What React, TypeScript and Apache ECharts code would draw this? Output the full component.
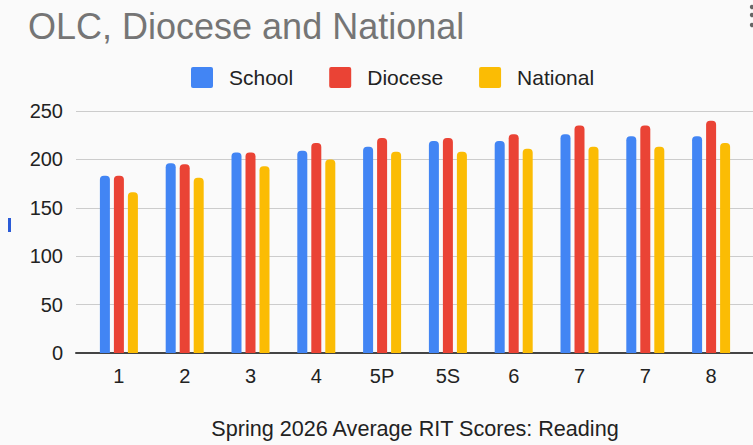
import React, { useEffect, useRef } from "react";
import * as echarts from "echarts";

const categories = ["1", "2", "3", "4", "5P", "5S", "6", "7", "7", "8"];
const school = [183, 196, 207, 209, 213, 219, 219, 226, 224, 224];
const diocese = [183, 195, 207, 217, 222, 222, 226, 235, 235, 240];
const national = [166, 181, 193, 200, 208, 208, 211, 213, 213, 217];
const seriesNames = ["School", "Diocese", "National"];
const colors = ["#4285F4", "#EA4335", "#FBBC04"];
const yMin = 0;
const yMax = 250;
const yInterval = 50;

const FONT = "'Liberation Sans', Arial, sans-serif";
const SQUARE =
  "path://M2,0H20A2,2,0,0,1,22,2V19A2,2,0,0,1,20,21H2A2,2,0,0,1,0,19V2A2,2,0,0,1,2,0Z";

export default function App() {
  const ref = useRef<HTMLDivElement>(null);
  useEffect(() => {
    if (!ref.current) return;
    const chart = echarts.init(ref.current, null, { renderer: "svg" });
    const gridTop = 111;
    const gridBottom = 92;
    const barSeries = [school, diocese, national].map((d, i) => ({
      name: seriesNames[i],
      type: "bar",
      xAxisIndex: 0,
      yAxisIndex: 0,
      data: d,
      barWidth: 10,
      barGap: "40%",
      itemStyle: { color: colors[i], borderRadius: [4, 4, 0, 0] },
    }));
    chart.setOption({
      animation: false,
      backgroundColor: "#fafafa",
      textStyle: { fontFamily: FONT },
      title: {
        text: "OLC, Diocese and National",
        left: 23,
        top: 3,
        textStyle: { fontSize: 36, fontWeight: "normal", color: "#757575", fontFamily: FONT },
      },
      legend: {
        left: 186,
        top: 62,
        itemWidth: 22,
        itemHeight: 21,
        itemGap: 36,
        icon: SQUARE,
        textStyle: { fontSize: 21, color: "#222", fontFamily: FONT, padding: [0, 0, 0, 11] },
        data: seriesNames,
      },
      grid: [
        { left: 86, right: 9, top: gridTop, bottom: gridBottom, outerBoundsMode: "none", containLabel: false },
        { left: 76, right: -5, top: gridTop, bottom: gridBottom, outerBoundsMode: "none", containLabel: false },
      ],
      xAxis: [
        {
          type: "category",
          gridIndex: 0,
          data: categories,
          axisLine: { show: false },
          axisTick: { show: false },
          axisLabel: { fontSize: 20, color: "#222", margin: 13, fontFamily: FONT },
          name: "Spring 2026 Average RIT Scores: Reading",
          nameLocation: "middle",
          nameGap: 64,
          nameTextStyle: { fontSize: 21.6, color: "#222", fontFamily: FONT },
        },
        {
          type: "value",
          gridIndex: 1,
          min: 0,
          max: 1,
          axisLine: { show: true, lineStyle: { color: "#444", width: 2 } },
          axisTick: { show: false },
          axisLabel: { show: false },
          splitLine: { show: false },
        },
      ],
      yAxis: [
        {
          type: "value",
          gridIndex: 0,
          min: yMin,
          max: yMax,
          interval: yInterval,
          axisLine: { show: false },
          axisTick: { show: false },
          axisLabel: { show: false },
          splitLine: { show: false },
        },
        {
          type: "value",
          gridIndex: 1,
          min: yMin,
          max: yMax,
          interval: yInterval,
          axisLine: { show: false },
          axisTick: { show: false },
          axisLabel: { fontSize: 20, color: "#222", margin: 13, fontFamily: FONT },
          splitLine: { lineStyle: { color: "#cccccc", width: 1 } },
        },
      ],
      graphic: [
        { type: "rect", shape: { x: 8, y: 218, width: 3, height: 14 }, style: { fill: "#2a5bd7" } },
        { type: "circle", shape: { cx: 752, cy: 7, r: 2.2 }, style: { fill: "#666" } },
        { type: "circle", shape: { cx: 752, cy: 15, r: 2.2 }, style: { fill: "#666" } },
        { type: "circle", shape: { cx: 752, cy: 25, r: 2.2 }, style: { fill: "#666" } },
      ],
      series: barSeries,
    });
    return () => chart.dispose();
  }, []);
  return (
    <div
      ref={ref}
      style={{ position: "fixed", left: 0, top: 0, width: 753, height: 445 }}
    />
  );
}
